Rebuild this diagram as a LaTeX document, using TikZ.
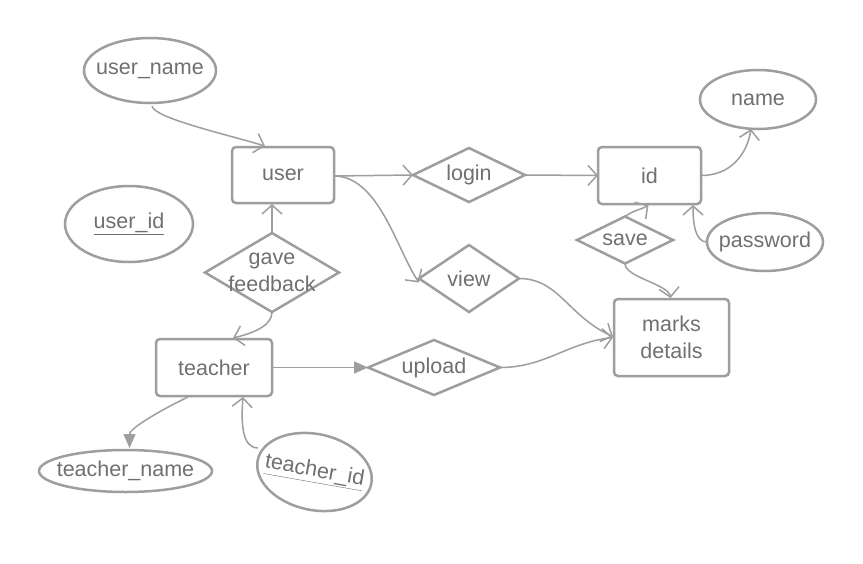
\documentclass[tikz,border=0pt]{standalone}
\usepackage{fontspec}
\setmainfont{Liberation Sans}
\usetikzlibrary{shapes.geometric,arrows.meta,calc}
\definecolor{ln}{HTML}{9E9E9E}
\definecolor{tx}{HTML}{707070}
\newcommand{\fs}{\fontsize{21.5}{26.5}\selectfont}
\begin{document}
\begin{tikzpicture}[x=1pt,y=-1pt,
  ent/.style={draw=ln, line width=2.5pt, rounded corners=4pt, inner sep=0pt, outer sep=0pt, text=tx, font=\fs, align=center},
  rel/.style={diamond, draw=ln, line width=2.5pt, inner sep=0pt, outer sep=0pt},
  att/.style={ellipse, draw=ln, line width=2.5pt, inner sep=0pt, outer sep=0pt},
  lbl/.style={text=tx, font=\fs, align=center, inner sep=0pt},
  conn/.style={draw=ln, line width=1.5pt, -{Straight Barb[length=9pt,width=20pt]}},
  fconn/.style={draw=ln, line width=1.5pt, -{Triangle[length=14pt,width=12pt]}}]
\useasboundingbox[fill=white] (0,0) rectangle (863,563);
% entities
\node[ent, minimum width=102pt, minimum height=56pt] (user) at (283,175) {user};
\node[ent, minimum width=103pt, minimum height=57pt] (id) at (649.5,175.5) {id};
\node[ent, minimum width=116pt, minimum height=57pt] (teacher) at (214,367.5) {teacher};
\node[ent, minimum width=115pt, minimum height=77pt] (marks) at (671.5,337.5) {marks\\details};
% relationships
\node[rel, minimum width=112pt, minimum height=54pt, label={[lbl]center:login}] (login) at (469,175) {};
\node[rel, minimum width=100pt, minimum height=67pt, label={[lbl]center:view}] (view) at (469,278.5) {};
\node[rel, minimum width=96pt, minimum height=47pt, label={[lbl]center:save}] (save) at (625,240) {};
\node[rel, minimum width=134pt, minimum height=79pt, label={[lbl]center:gave\\feedback}] (gf) at (272,272.5) {};
\node[rel, minimum width=132pt, minimum height=55pt, label={[lbl]center:upload}] (upload) at (434,367.5) {};
% attributes
\node[att, minimum width=132pt, minimum height=65pt, label={[lbl]center:user\_name}] (uname) at (150,70.5) {};
\node[att, minimum width=128pt, minimum height=76pt, label={[lbl]center:\underline{user\_id}}] (uid) at (129,224) {};
\node[att, minimum width=116pt, minimum height=59pt, label={[lbl]center:name}] (name) at (758,99.5) {};
\node[att, minimum width=116pt, minimum height=58pt, label={[lbl]center:password}] (pw) at (765,242) {};
\node[att, minimum width=173pt, minimum height=42pt, label={[lbl]center:teacher\_name}] (tname) at (125.5,471) {};
\node[att, rotate=-12, minimum width=116pt, minimum height=76pt, label={[lbl,rotate=-10]center:\underline{teacher\_id}}] (tid) at (314.5,472) {};
% connectors
\draw[conn] ($(uname.south)+(2,3)$) .. controls +(2,12) and +(-40,-12) .. ($(user.north)+(-18,-1)$);
\draw[conn] ($(user.east)+(0,1)$) -- (login.west);
\draw[conn] ($(user.east)+(0,1)$) .. controls +(45,0) and +(-22,-32) .. ($(view.west)+(0,4)$);
\draw[conn] (login.east) -- (id.west);
\draw[conn] (id.east) .. controls +(30,0) and +(-4,25) .. ($(name.south)+(-7,0)$);
\draw[conn] (pw.west) .. controls +(-12,0) and +(0,18) .. ($(id.south east)+(-8,1)$);
\draw[conn] (save.north) .. controls +(8,-6) and +(-6,4) .. ($(id.south)+(-1,1)$);
\draw[conn] (save.south) .. controls +(0,14) and +(-2,-14) .. ($(marks.north)+(-1,-1)$);
\draw[conn] (view.east) .. controls +(40,0) and +(-45,-20) .. ($(marks.west)+(-1,-1)$);
\draw[conn] (upload.east) .. controls +(45,0) and +(-45,5) .. ($(marks.west)+(-1,0)$);
\draw[fconn] (teacher.east) -- (upload.west);
\draw[conn] (gf.north) -- ($(user.south)+(-11,1)$);
\draw[conn] (gf.south) .. controls +(0,12) and +(25,-6) .. ($(teacher.north)+(19,-1)$);
\draw[fconn] ($(teacher.south)+(-26,1)$) .. controls +(-25,12) and +(0,-20) .. ($(tname.north)+(4,-2)$);
\draw[conn] ($(tid.west)+(0,-12)$) .. controls +(-16,0) and +(-2,25) .. ($(teacher.south)+(29,1)$);
\end{tikzpicture}
\end{document}
